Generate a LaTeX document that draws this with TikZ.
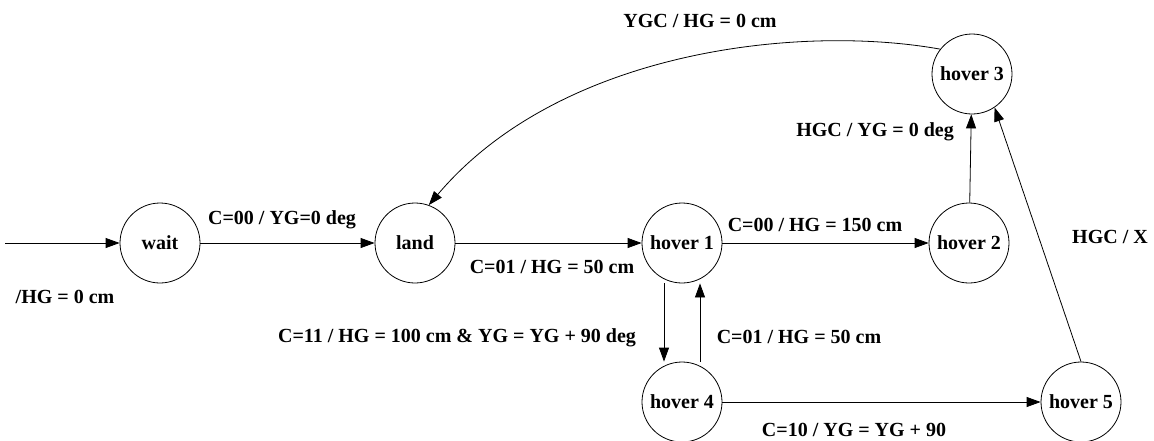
\documentclass[tikz,border=0pt]{standalone}
\usepackage{fontspec}
\setmainfont{Liberation Serif}
\usetikzlibrary{arrows.meta}
\begin{document}
\begin{tikzpicture}[x=1pt,y=-1pt,
  state/.style={draw,circle,minimum size=80pt,inner sep=0pt,line width=0.8pt,font=\fontsize{20}{24}\selectfont\bfseries},
  lbl/.style={font=\fontsize{20}{24}\selectfont\bfseries,inner sep=0pt},
  edge/.style={line width=0.8pt,-{Triangle[length=14pt,width=10pt]}}]
\useasboundingbox (0,0) rectangle (1154,440);
\node[state] (wait) at (160,243) {wait};
\node[state] (land) at (415,243) {land};
\node[state] (h1) at (682,243) {hover 1};
\node[state] (h2) at (969,243) {hover 2};
\node[state] (h3) at (972,74) {hover 3};
\node[state] (h4) at (682,402) {hover 4};
\node[state] (h5) at (1081,402) {hover 5};
\coordinate (start) at (5,243);

\draw[edge] (start) -- (wait);
\draw[edge] (wait) -- (land);
\draw[edge] (land) -- (h1);
\draw[edge] (h1) -- (h2);
\draw[edge] (h2) -- (h3);
\draw[edge] (h5.90) -- (h3.-56);
\draw[edge] (h4) -- (h5);
\draw[edge] ([xshift=-18pt]h1.south) -- ([xshift=-18pt]h4.north);
\draw[edge] ([xshift=18pt]h4.north) -- ([xshift=18pt]h1.south);
\draw[edge] (h3.142) .. controls (800,24) and (560,50) .. (land.70);

\node[lbl] (l0) at (65,297) {/HG = 0 cm};
\node[lbl] (l1) at (282,220) {C=00 / YG=0 deg};
\node[lbl] (l2) at (552,267) {C=01 / HG = 50 cm};
\node[lbl] (l3) at (815,225) {C=00 / HG = 150 cm};
\node[lbl] (l4) at (875,132) {HGC / YG = 0 deg};
\node[lbl] (l5) at (700,21) {YGC / HG = 0 cm};
\node[lbl] (l6) at (1110,237) {HGC / X};
\node[lbl] (l7) at (457,338) {C=11 / HG = 100 cm \& YG = YG + 90 deg};
\node[lbl] (l8) at (799,337) {C=01 / HG = 50 cm};
\node[lbl] (l9) at (854,430) {C=10 / YG = YG + 90};
\end{tikzpicture}
\end{document}
